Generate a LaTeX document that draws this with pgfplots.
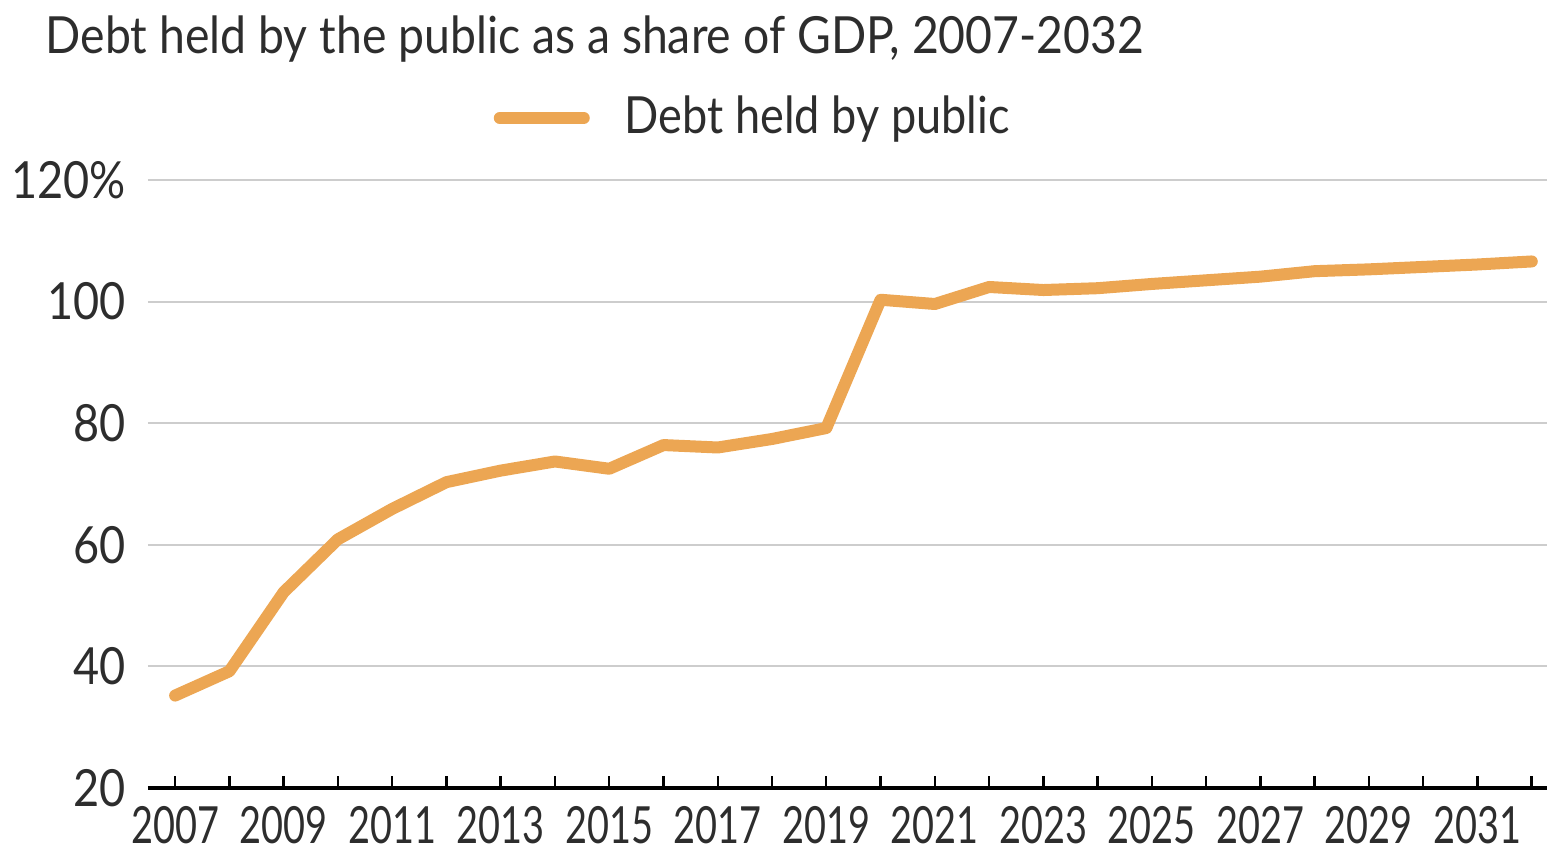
\documentclass[border=0pt]{standalone}
\usepackage{fontspec}
\setmainfont{Lato}[FakeStretch=0.88]
\newfontfamily\narrowfont{Lato}[FakeStretch=0.74]
\newfontfamily\titlefont{Lato}[FakeStretch=0.905]
\usepackage{pgfplots}
\pgfplotsset{compat=1.18}
\definecolor{debtorange}{RGB}{236,166,83}
\definecolor{txt}{RGB}{45,45,45}
\definecolor{gridgray}{RGB}{205,205,205}

\pgfplotstableread{
year debt
2007 35.2
2008 39.2
2009 52.2
2010 60.9
2011 65.9
2012 70.3
2013 72.2
2014 73.7
2015 72.5
2016 76.4
2017 76.0
2018 77.4
2019 79.2
2020 100.3
2021 99.6
2022 102.4
2023 101.9
2024 102.2
2025 102.9
2026 103.5
2027 104.1
2028 105.0
2029 105.3
2030 105.7
2031 106.1
2032 106.6
}\debttable

\begin{document}
\begin{tikzpicture}
\useasboundingbox (-37pt,-16pt) rectangle (349.75pt,197pt);
\begin{axis}[
    at={(0,0)}, anchor=south west,
    scale only axis,
    width=349.75pt, height=152pt,
    xmin=2006.5, xmax=2032.28,
    ymin=20, ymax=120,
    axis x line*=bottom,
    axis y line*=left,
    x axis line style={-, black, line width=1pt},
    y axis line style={draw=none},
    xtick={2007,...,2032},
    xticklabels={2007,,2009,,2011,,2013,,2015,,2017,,2019,,2021,,2023,,2025,,2027,,2029,,2031,},
    ytick={20,40,60,80,100,120},
    yticklabels={20,40,60,80,100,120\%},
    tick align=inside,
    major tick length=3pt,
    xtick style={black, line width=0.6pt},
    ytick style={draw=none},
    ymajorgrids,
    grid style={gridgray, line width=0.5pt},
    /pgf/number format/assume math mode=true,
    tick label style={text=txt},
    xticklabel style={font=\narrowfont\fontsize{12.8}{14}\selectfont, yshift=-1pt},
    yticklabel style={font=\fontsize{12.8}{14}\selectfont, xshift=-2pt},
    clip=false,
    legend style={at={(0.2466,1.102)}, anchor=west, draw=none, fill=none,
        font=\fontsize{12.8}{14}\selectfont, text=txt, inner sep=0pt},
    legend image code/.code={
        \draw[line width=3pt, line cap=round, debtorange] (1.5pt,0pt) -- (22.5pt,0pt);
        \path (29.3pt,0pt);},
    legend cell align=left,
]
\addplot[debtorange, line width=3pt, line cap=round, line join=round] table[x=year, y=debt] {\debttable};
\addlegendentry{Debt held by public}
\node[anchor=west, text=txt, font=\titlefont\fontsize{12.8}{14}\selectfont, inner sep=0pt]
    at (axis description cs:-0.0736,1.232) {Debt held by the public as a share of GDP, 2007-2032};
\end{axis}
\end{tikzpicture}
\end{document}
